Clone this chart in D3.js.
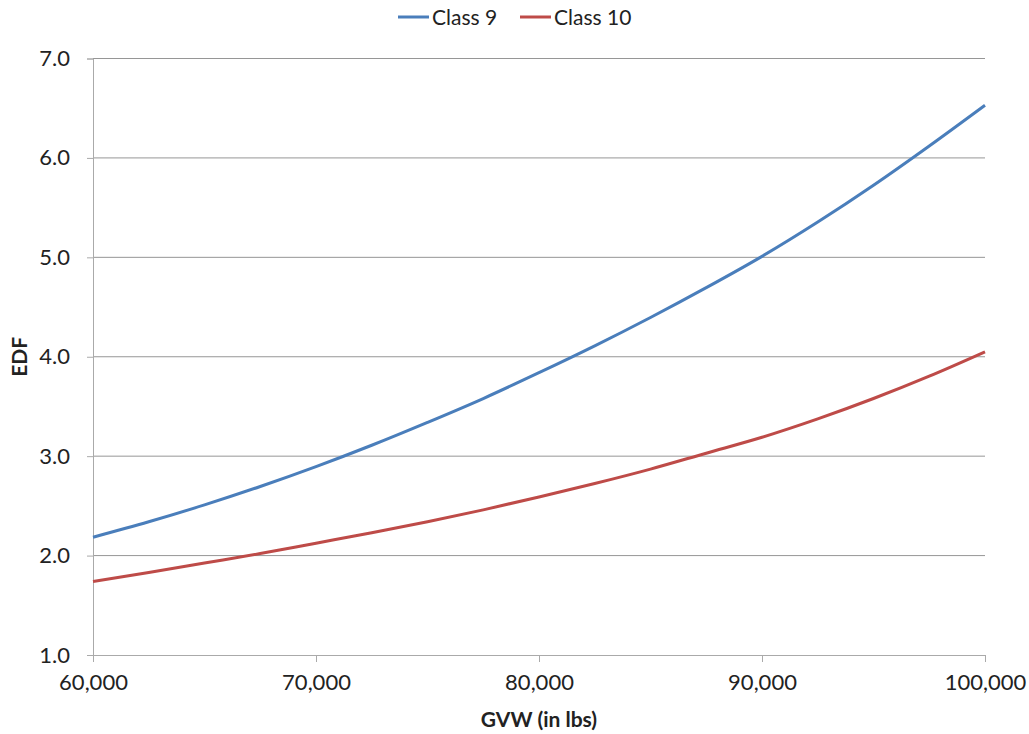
<!DOCTYPE html>
<html>
<head>
<meta charset="utf-8">
<script src="https://cdn.jsdelivr.net/npm/d3@7/dist/d3.min.js"></script>
<style>
  html, body { margin: 0; padding: 0; background: #fff; }
  svg { display: block; font-family: Lato, "Open Sans", sans-serif; }
</style>
</head>
<body>
<svg id="chart" width="1029" height="734"></svg>
<script>
// Gross vehicle weight (lbs) sampled every 2,500 lbs
const gvw = [60000, 62500, 65000, 67500, 70000, 72500, 75000, 77500, 80000,
             82500, 85000, 87500, 90000, 92500, 95000, 97500, 100000];
// Equivalent damage factor per vehicle class
const class9 = [2.185, 2.34, 2.51, 2.695, 2.895, 3.11, 3.34, 3.58, 3.84,
                4.11, 4.395, 4.695, 5.01, 5.355, 5.725, 6.12, 6.53];
const class10 = [1.74, 1.83, 1.925, 2.02, 2.125, 2.23, 2.34, 2.46, 2.59,
                 2.725, 2.87, 3.03, 3.19, 3.375, 3.58, 3.805, 4.05];
const seriesNames = ["Class 9", "Class 10"];
const seriesColors = ["#4a7ebb", "#be4b48"];
const xTicks = [60000, 70000, 80000, 90000, 100000];
const yTicks = [1, 2, 3, 4, 5, 6, 7];

const svg = d3.select("#chart");
const plot = { left: 93, right: 985, top: 58.5, bottom: 655 };

const x = d3.scaleLinear().domain([60000, 100000]).range([plot.left, plot.right]);
const y = d3.scaleLinear().domain([1, 7]).range([plot.bottom, plot.top]);

// horizontal gridlines
svg.append("g")
  .selectAll("line")
  .data(yTicks.filter(d => d > 1))
  .join("line")
  .attr("x1", plot.left).attr("x2", plot.right)
  .attr("y1", d => y(d)).attr("y2", d => y(d))
  .attr("stroke", "#969696").attr("stroke-width", 1);

// y axis
const yAxis = svg.append("g")
  .attr("transform", `translate(${plot.left},0)`)
  .call(d3.axisLeft(y).tickValues(yTicks).tickFormat(d3.format(".1f")).tickSizeOuter(0).tickSize(6).tickPadding(17));
yAxis.select(".domain").attr("stroke", "#aaa");
yAxis.selectAll(".tick line").attr("stroke", "#aaa");
yAxis.selectAll(".tick text").attr("font-size", 22).attr("fill", "#222")
  .attr("font-family", "Lato, sans-serif");

// x axis
const xAxis = svg.append("g")
  .attr("transform", `translate(0,${plot.bottom})`)
  .call(d3.axisBottom(x).tickValues(xTicks).tickFormat(d3.format(",")).tickSizeOuter(0).tickSize(7).tickPadding(12));
xAxis.select(".domain").attr("stroke", "#aaa");
xAxis.selectAll(".tick line").attr("stroke", "#aaa");
xAxis.selectAll(".tick text").attr("font-size", 22).attr("fill", "#222")
  .attr("font-family", "Lato, sans-serif");

// series lines
const line = d3.line()
  .x((d, i) => x(gvw[i]))
  .y(d => y(d))
  .curve(d3.curveMonotoneX);

[class9, class10].forEach((vals, k) => {
  svg.append("path")
    .datum(vals)
    .attr("d", line)
    .attr("fill", "none")
    .attr("stroke", seriesColors[k])
    .attr("stroke-width", 3);
});

// axis titles
svg.append("text")
  .attr("transform", `translate(27,${(plot.top + plot.bottom) / 2}) rotate(-90)`)
  .attr("text-anchor", "middle")
  .attr("font-size", 21).attr("font-weight", "bold").attr("fill", "#222")
  .text("EDF");

svg.append("text")
  .attr("x", (plot.left + plot.right) / 2).attr("y", 727)
  .attr("text-anchor", "middle")
  .attr("font-size", 21).attr("font-weight", "bold").attr("fill", "#222")
  .text("GVW (in lbs)");

// legend
const legendX = [398, 520];
legendX.forEach((lx, k) => {
  const g = svg.append("g").attr("transform", `translate(${lx},17)`);
  g.append("line").attr("x1", 0).attr("x2", 31).attr("y1", 0).attr("y2", 0)
    .attr("stroke", seriesColors[k]).attr("stroke-width", 3);
  g.append("text").attr("x", 34).attr("y", 8)
    .attr("font-size", 21).attr("fill", "#222")
    .text(seriesNames[k]);
});
</script>
</body>
</html>
